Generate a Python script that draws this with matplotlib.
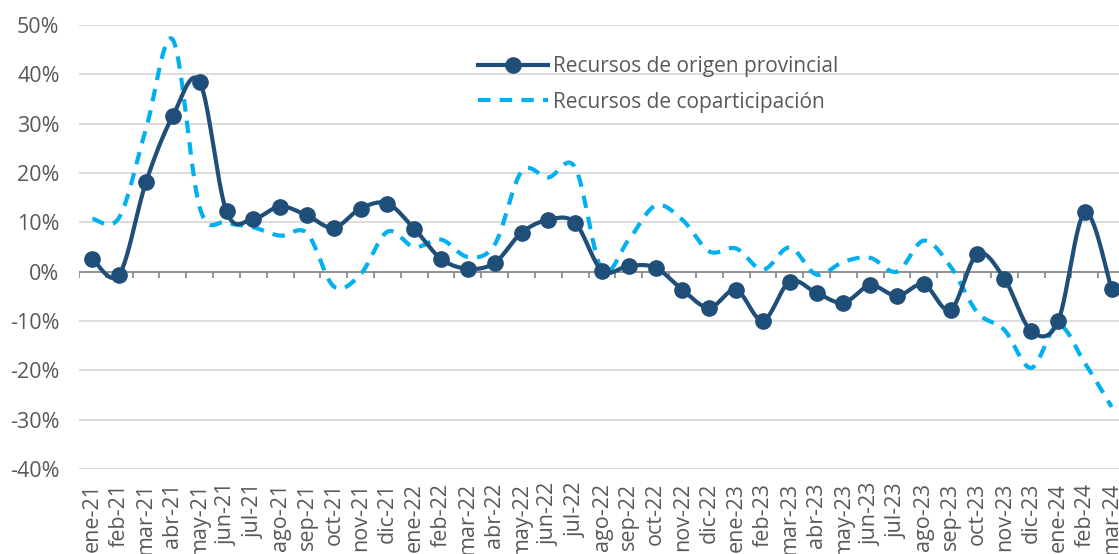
import numpy as np
import matplotlib.pyplot as plt
from matplotlib.lines import Line2D

meses = ["ene-21", "feb-21", "mar-21", "abr-21", "may-21", "jun-21", "jul-21", "ago-21",
         "sep-21", "oct-21", "nov-21", "dic-21", "ene-22", "feb-22", "mar-22", "abr-22",
         "may-22", "jun-22", "jul-22", "ago-22", "sep-22", "oct-22", "nov-22", "dic-22",
         "ene-23", "feb-23", "mar-23", "abr-23", "may-23", "jun-23", "jul-23", "ago-23",
         "sep-23", "oct-23", "nov-23", "dic-23", "ene-24", "feb-24", "mar-24"]

origen_provincial = [2.6, -0.6, 18.2, 31.6, 38.5, 12.2, 10.7, 13.2, 11.4, 8.9, 12.8, 13.8,
                     8.7, 2.6, 0.6, 1.8, 7.9, 10.5, 9.9, 0.2, 1.2, 0.8, -3.7, -7.3,
                     -3.7, -9.9, -2.0, -4.3, -6.3, -2.8, -4.9, -2.6, -7.7, 3.6, -1.4, -12.0,
                     -10.1, 12.0, -3.5]

coparticipacion = [10.7, 11.0, 29.0, 47.0, 13.0, 10.0, 9.0, 7.3, 7.8, -3.0, -0.5, 8.1,
                   5.0, 6.5, 3.0, 5.5, 20.3, 19.1, 21.1, 0.4, 6.5, 13.4, 10.5, 4.1,
                   4.7, 0.4, 4.9, -0.6, 2.0, 2.8, 0.0, 6.3, 1.0, -8.3, -11.8, -19.5,
                   -10.8, -18.5, -27.4]

azul = "#1F4E79"
celeste = "#00B0F0"
gris = "#595959"


def suavizar(x, y, n=30):
    # curva tipo Excel: bezier con puntos de control de Catmull-Rom
    x = np.asarray(x, float)
    y = np.asarray(y, float)
    px = np.concatenate([[x[0]], x, [x[-1]]])
    py = np.concatenate([[y[0]], y, [y[-1]]])
    t = np.linspace(0, 1, n)[:, None]
    xs, ys = [], []
    for i in range(len(x) - 1):
        p0 = np.array([px[i + 1], py[i + 1]])
        p3 = np.array([px[i + 2], py[i + 2]])
        c1 = p0 + (p3 - np.array([px[i], py[i]])) / 6
        c2 = p3 - (np.array([px[i + 3], py[i + 3]]) - p0) / 6
        b = (1 - t) ** 3 * p0 + 3 * (1 - t) ** 2 * t * c1 + 3 * (1 - t) * t ** 2 * c2 + t ** 3 * p3
        xs.append(b[:, 0])
        ys.append(b[:, 1])
    return np.concatenate(xs), np.concatenate(ys)


plt.rcParams["font.family"] = ["Open Sans", "DejaVu Sans"]

fig = plt.figure(figsize=(11.19, 5.54), dpi=100)
W, H = 1119, 554
ax = fig.add_axes([79 / W, (H - 469) / H, (1125 - 79) / W, (469 - 25) / H])

x = np.arange(len(meses))

sx, sy = suavizar(x, coparticipacion)
ax.plot(sx, sy, color=celeste, lw=3, dashes=(3, 2.2), solid_capstyle="butt", zorder=3)

sx, sy = suavizar(x, origen_provincial)
ax.plot(sx, sy, color=azul, lw=3, zorder=4)
ax.plot(x, origen_provincial, "o", color=azul, ms=11, zorder=5)

ax.set_xlim(-0.5, len(meses) - 0.5)
ax.set_ylim(-40, 50)
ax.set_yticks(range(-40, 51, 10))
ax.set_yticklabels([f"{v}%" for v in range(-40, 51, 10)])
ax.grid(axis="y", color="#d9d9d9", lw=1.3)
ax.set_axisbelow(True)

ax.set_xticks(x)
ax.set_xticklabels(meses, rotation=90, va="top", ha="center")
ax.tick_params(axis="x", length=0, pad=10, labelsize=15.5, labelcolor=gris)
ax.tick_params(axis="y", length=0, pad=14, labelsize=15.5, labelcolor=gris)
for s in ax.spines.values():
    s.set_visible(False)

# eje en 0 con marcas entre categorias
ax.axhline(0, color="#8c8c8c", lw=1.3, zorder=2)
ax.vlines(np.arange(len(meses) + 1) - 0.5, -1.3, 0, color="#8c8c8c", lw=1.3, zorder=2)

handles = [
    Line2D([], [], color=azul, lw=3, marker="o", ms=11),
    Line2D([], [], color=celeste, lw=3, dashes=(3, 2.2)),
]
ax.legend(handles, ["Recursos de origen provincial", "Recursos de coparticipación"],
          loc="upper left", bbox_to_anchor=(0.381, 0.93), frameon=False, fontsize=15,
          labelcolor=gris, handlelength=3.36, handletextpad=0.24, labelspacing=0.7,
          borderpad=0, borderaxespad=0)

fig.savefig("out.png", dpi=100)
